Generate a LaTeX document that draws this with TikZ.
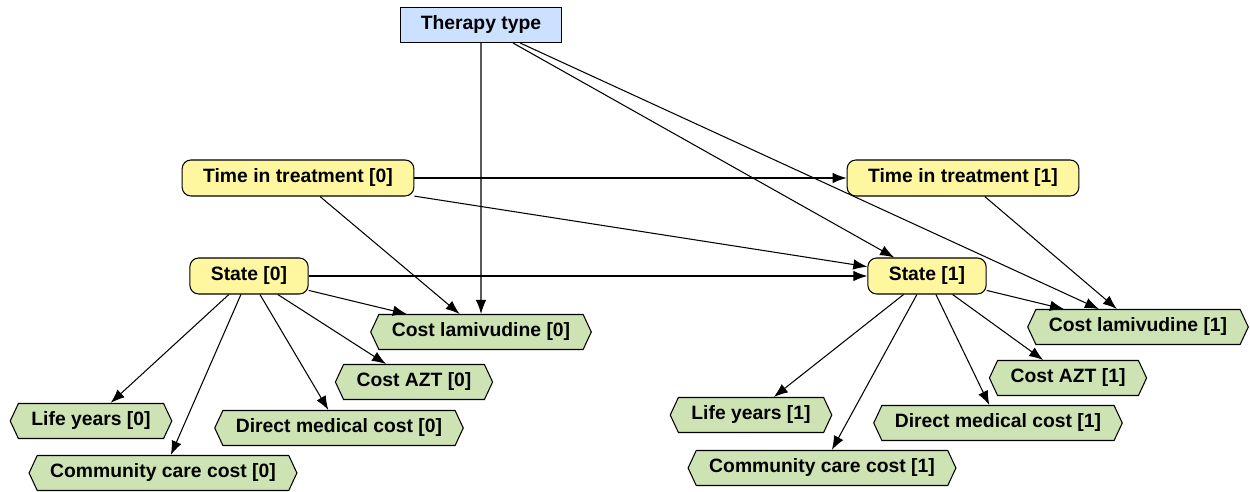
\documentclass[tikz,border=0pt]{standalone}
\usepackage{fontspec}
\setmainfont{Liberation Sans}
\usepackage{xcolor}
\usetikzlibrary{shapes,arrows,arrows.meta}
\definecolor{therapyblue}{RGB}{204,224,255}
\definecolor{chanceyellow}{RGB}{255,247,160}
\definecolor{utilgreen}{RGB}{206,227,180}

\begin{document}
\begin{tikzpicture}[auto,>={Latex[length=8pt,width=6pt]},x=0.02cm,y=-0.02cm,font=\fontsize{11}{13}\selectfont\bfseries]
    \tikzstyle{decision} = [draw, shape=rectangle, fill=therapyblue, minimum height=0.7cm, inner xsep=0.4cm, line width=0.6pt]
    \tikzstyle{chance} = [draw, shape=rectangle, rounded corners=5pt, fill=chanceyellow, minimum height=0.72cm, inner xsep=0.42cm, line width=0.6pt]
    \tikzstyle{utility} = [draw, shape=signal, signal to=west and east, signal pointer angle=130, fill=utilgreen, minimum height=0.7cm, inner xsep=0.26cm, line width=0.6pt]
    \useasboundingbox (0,0) rectangle (1250,492);
    %Creating Blocks and Connection Nodes
    \node [decision] (therapy) at (481,25) {Therapy type};
    \node [chance] (time0) at (298,178) {Time in treatment [0]};
    \node [chance] (time1) at (963,178) {Time in treatment [1]};
    \node [chance] (state0) at (249,276) {State [0]};
    \node [chance] (state1) at (927,276) {State [1]};
    \node [utility] (lam0) at (481,332) {Cost lamivudine [0]};
    \node [utility] (azt0) at (414,382) {Cost AZT [0]};
    \node [utility] (life0) at (91,421) {Life years [0]};
    \node [utility] (direct0) at (339,428) {Direct medical cost [0]};
    \node [utility] (comm0) at (163,473) {Community care cost [0]};
    \node [utility] (lam1) at (1138,327) {Cost lamivudine [1]};
    \node [utility] (azt1) at (1068,378) {Cost AZT [1]};
    \node [utility] (life1) at (751,415) {Life years [1]};
    \node [utility] (direct1) at (998,423) {Direct medical cost [1]};
    \node [utility] (comm1) at (822,468) {Community care cost [1]};
    %Conecting Blocks
    \begin{scope}[line width=0.6pt]
         \draw[->] (therapy) -- (lam0);
         \draw[->] (therapy) -- (state1);
         \draw[->] (therapy) -- (lam1);
         \draw[->] (time0) -- (time1);
         \draw[->] (time0) -- (state1);
         \draw[->] (time0) -- (lam0);
         \draw[->] (time1) -- (lam1);
         \draw[->] (state0) -- (state1);
         \draw[->] (state0) -- (lam0);
         \draw[->] (state0) -- (azt0);
         \draw[->] (state0) -- (direct0);
         \draw[->] (state0) -- (comm0);
         \draw[->] (state0) -- (life0);
         \draw[->] (state1) -- (lam1);
         \draw[->] (state1) -- (azt1);
         \draw[->] (state1) -- (direct1);
         \draw[->] (state1) -- (comm1);
         \draw[->] (state1) -- (life1);
    \end{scope}
\end{tikzpicture}
\end{document}
